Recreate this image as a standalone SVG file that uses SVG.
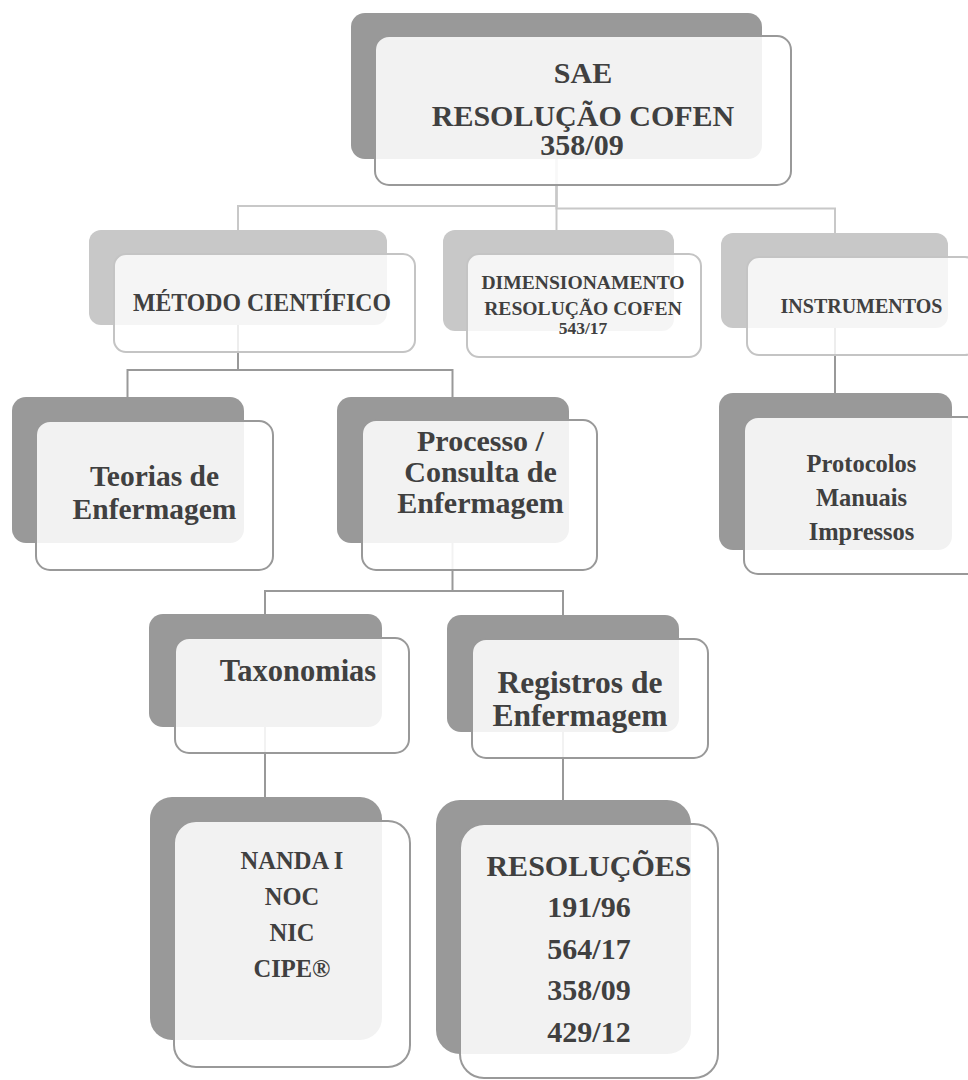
<svg xmlns="http://www.w3.org/2000/svg" width="968" height="1080" viewBox="0 0 968 1080">
<style>
.bg{fill:#ffffff}
.dk{fill:#999999}
.dk2{fill:#c8c8c8}
.fr{fill:#ffffff;fill-opacity:0.87;stroke:#999999;stroke-width:2}
.fr2{fill:#ffffff;fill-opacity:0.82;stroke:#c4c4c4;stroke-width:2}
.cn{fill:none;stroke:#999999;stroke-width:2}
.cn2{fill:none;stroke:#c8c8c8;stroke-width:2}
text{font-family:"Liberation Serif","Times New Roman",serif;font-weight:bold;fill:#404040;text-anchor:middle}
</style>
<rect class="bg" x="0" y="0" width="968" height="1080"/>
<g id="connectors">
<path class="cn2" d="M556.5,100 V206 H238 V231"/>
<path class="cn2" d="M556.5,100 V231"/>
<path class="cn2" d="M556.5,100 V208.5 H835 V233"/>
<path class="cn" d="M238,300 V370 H127.5 V397"/>
<path class="cn" d="M238,370 H452.5 V397"/>
<path class="cn" d="M835,300 V393"/>
<path class="cn" d="M452.5,500 V591 H265 V614"/>
<path class="cn" d="M452.5,591 H563 V615"/>
<path class="cn" d="M265,700 V797"/>
<path class="cn" d="M563,700 V800"/>
</g>
<g id="node-sae">
<rect class="dk" x="351" y="13" width="411" height="146" rx="14"/>
<rect class="fr" x="375" y="36" width="416" height="149" rx="14"/>
<text x="583" y="83" font-size="30">SAE</text>
<text x="583" y="126" font-size="30">RESOLUÇÃO COFEN</text>
<text x="582" y="155" font-size="30">358/09</text>
</g>
<g id="node-metodo">
<rect class="dk2" x="89" y="230" width="298" height="95" rx="12"/>
<rect class="fr2" x="114" y="254" width="301" height="98" rx="12"/>
<text x="262" y="311" font-size="25" textLength="258" lengthAdjust="spacingAndGlyphs">MÉTODO CIENTÍFICO</text>
</g>
<g id="node-dimensionamento">
<rect class="dk2" x="443" y="230" width="231" height="101" rx="12"/>
<rect class="fr2" x="467" y="254" width="234" height="103" rx="12"/>
<text x="583" y="289" font-size="19.6">DIMENSIONAMENTO</text>
<text x="583" y="315" font-size="19.6">RESOLUÇÃO COFEN</text>
<text x="583" y="334" font-size="17.5">543/17</text>
</g>
<g id="node-instrumentos">
<rect class="dk2" x="721" y="233" width="227" height="95" rx="12"/>
<rect class="fr2" x="747" y="257" width="230" height="98" rx="12"/>
<text x="861.5" y="313" font-size="20">INSTRUMENTOS</text>
</g>
<g id="node-teorias">
<rect class="dk" x="12" y="397" width="232" height="146" rx="14"/>
<rect class="fr" x="36" y="421" width="237" height="149" rx="14"/>
<text x="154.5" y="486" font-size="29.5">Teorias de</text>
<text x="154.5" y="519" font-size="29.5">Enfermagem</text>
</g>
<g id="node-processo">
<rect class="dk" x="337" y="397" width="232" height="146" rx="14"/>
<rect class="fr" x="362" y="420" width="235" height="150" rx="14"/>
<text x="480.5" y="451" font-size="30">Processo /</text>
<text x="480.5" y="482" font-size="30">Consulta de</text>
<text x="480.5" y="513" font-size="30">Enfermagem</text>
</g>
<g id="node-protocolos">
<rect class="dk" x="719" y="393" width="233" height="157" rx="14"/>
<rect class="fr" x="744" y="417" width="236" height="157" rx="14"/>
<text x="861.5" y="472" font-size="24.5">Protocolos</text>
<text x="861.5" y="506" font-size="24.5">Manuais</text>
<text x="861.5" y="540" font-size="24.5">Impressos</text>
</g>
<g id="node-taxonomias">
<rect class="dk" x="149" y="614" width="233" height="113" rx="14"/>
<rect class="fr" x="175" y="638" width="234" height="115" rx="14"/>
<text x="298" y="681" font-size="30.5">Taxonomias</text>
</g>
<g id="node-registros">
<rect class="dk" x="447" y="615" width="232" height="117" rx="14"/>
<rect class="fr" x="472" y="639" width="236" height="119" rx="14"/>
<text x="580" y="693" font-size="31.5">Registros de</text>
<text x="580" y="726" font-size="31.5">Enfermagem</text>
</g>
<g id="node-nanda">
<rect class="dk" x="150" y="797" width="232" height="243" rx="22"/>
<rect class="fr" x="174" y="821" width="236" height="246" rx="22"/>
<text x="292" y="869" font-size="24.5">NANDA I</text>
<text x="292" y="905" font-size="24.5">NOC</text>
<text x="292" y="941" font-size="24.5">NIC</text>
<text x="292" y="977" font-size="24.5">CIPE®</text>
</g>
<g id="node-resolucoes">
<rect class="dk" x="436" y="800" width="255" height="254" rx="24"/>
<rect class="fr" x="460" y="824" width="258" height="254" rx="24"/>
<text x="589" y="876" font-size="30">RESOLUÇÕES</text>
<text x="589" y="917" font-size="30">191/96</text>
<text x="589" y="959" font-size="30">564/17</text>
<text x="589" y="1000" font-size="30">358/09</text>
<text x="589" y="1042" font-size="30">429/12</text>
</g>
</svg>
